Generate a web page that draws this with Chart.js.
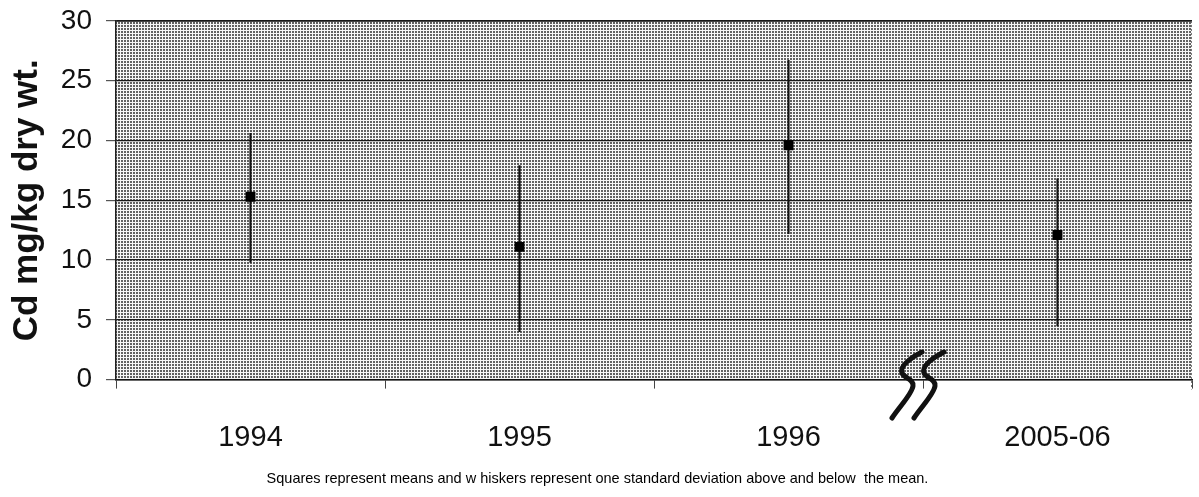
<!DOCTYPE html>
<html>
<head>
<meta charset="utf-8">
<script src="https://cdn.jsdelivr.net/npm/chart.js@4"></script>
<style>
  html, body { margin: 0; padding: 0; background: #fff; }
  canvas { display: block; }
</style>
</head>
<body>
<canvas id="cdChart" width="1199" height="497"></canvas>
<script>
// Cadmium, mean and +/- one SD per sampling period
const years   = ['1994', '1995', '1996', '2005-06'];
const meanCd  = [15.3, 11.1, 19.6, 12.1];
const upperCd = [20.6, 17.9, 26.7, 16.8];
const lowerCd = [9.8, 4.0, 12.2, 4.5];

const SANS = '"Liberation Sans", Arial, sans-serif';

// Screened grey fill like an old photocopy
function makeScreen() {
  const c = document.createElement('canvas');
  c.width = 3; c.height = 3;
  const g = c.getContext('2d');
  g.fillStyle = '#616161';
  g.fillRect(0, 0, 3, 3);
  g.fillStyle = '#f6f6f6';
  g.fillRect(0, 0, 3, 1);
  g.fillRect(0, 0, 1, 3);
  return g.createPattern(c, 'repeat');
}

const plotBackground = {
  id: 'plotBackground',
  beforeDraw(chart) {
    const { ctx, chartArea: a } = chart;
    ctx.save();
    ctx.fillStyle = makeScreen();
    ctx.fillRect(a.left, a.top, a.right - a.left, a.bottom - a.top);
    ctx.strokeStyle = '#222';
    ctx.lineWidth = 1.5;
    ctx.beginPath();
    ctx.moveTo(a.left, a.top);
    ctx.lineTo(a.right, a.top);
    ctx.stroke();
    ctx.strokeStyle = '#777';
    ctx.lineWidth = 1;
    ctx.setLineDash([2, 2]);
    ctx.beginPath();
    ctx.moveTo(a.right - 0.5, a.top);
    ctx.lineTo(a.right - 0.5, a.bottom + 10);
    ctx.stroke();
    ctx.restore();
  }
};

// Axis break mark between 1996 and 2005-06
const axisBreak = {
  id: 'axisBreak',
  afterDraw(chart) {
    const { ctx } = chart;
    ctx.save();
    ctx.strokeStyle = '#111';
    ctx.lineWidth = 5;
    ctx.lineCap = 'round';
    ctx.lineJoin = 'round';
    [0, 22].forEach(dx => {
      ctx.beginPath();
      ctx.moveTo(922 + dx, 352);
      ctx.bezierCurveTo(912 + dx, 357, 899 + dx, 366, 902 + dx, 373);
      ctx.bezierCurveTo(904 + dx, 378, 914 + dx, 379, 913 + dx, 386);
      ctx.bezierCurveTo(912 + dx, 394, 900 + dx, 406, 892 + dx, 418);
      ctx.stroke();
    });
    ctx.restore();
  }
};

new Chart(document.getElementById('cdChart'), {
  type: 'bar',
  data: {
    labels: years,
    datasets: [
      {
        type: 'line',
        label: 'Mean',
        data: meanCd,
        showLine: false,
        pointStyle: 'rect',
        pointRadius: 7,
        pointBackgroundColor: '#000',
        pointBorderColor: '#000',
        pointBorderWidth: 0,
        order: 0
      },
      {
        label: 'SD',
        data: lowerCd.map((lo, i) => [lo, upperCd[i]]),
        backgroundColor: '#111',
        barThickness: 1.5,
        order: 1
      }
    ]
  },
  options: {
    responsive: false,
    animation: false,
    layout: { padding: { top: 21, right: 4, left: 0, bottom: 2 } },
    plugins: {
      legend: { display: false },
      tooltip: { enabled: false },
      title: {
        display: true,
        position: 'bottom',
        text: 'Squares represent means and w hiskers represent one standard deviation above and below  the mean.',
        color: '#000',
        font: { family: SANS, size: 14.5, weight: 'normal' },
        padding: { top: 0, bottom: 7 }
      }
    },
    scales: {
      x: {
        offset: true,
        grid: {
          offset: true,
          drawOnChartArea: false,
          drawTicks: true,
          tickLength: 9,
          color: '#444'
        },
        border: { display: true, color: '#111', width: 1.5 },
        ticks: {
          color: '#111',
          padding: 32,
          font: { family: SANS, size: 29 }
        },
        afterFit(scale) { scale.height = 91; }
      },
      y: {
        min: 0,
        max: 30,
        ticks: {
          stepSize: 5,
          color: '#111',
          padding: 14,
          font: { family: SANS, size: 28 }
        },
        grid: {
          color: '#1a1a1a',
          lineWidth: 1.2,
          tickLength: 10,
          tickColor: '#555'
        },
        border: { display: true, color: '#222', width: 1.5 },
        title: {
          display: true,
          text: 'Cd mg/kg dry wt.',
          color: '#111',
          padding: { top: 6, bottom: 0 },
          font: { family: SANS, size: 35, weight: 'bold' }
        },
        afterFit(scale) {
          scale.width = 116;
          scale.paddingTop = 0;
          scale.paddingBottom = 0;
        }
      }
    }
  },
  plugins: [plotBackground, axisBreak]
});
</script>
</body>
</html>
